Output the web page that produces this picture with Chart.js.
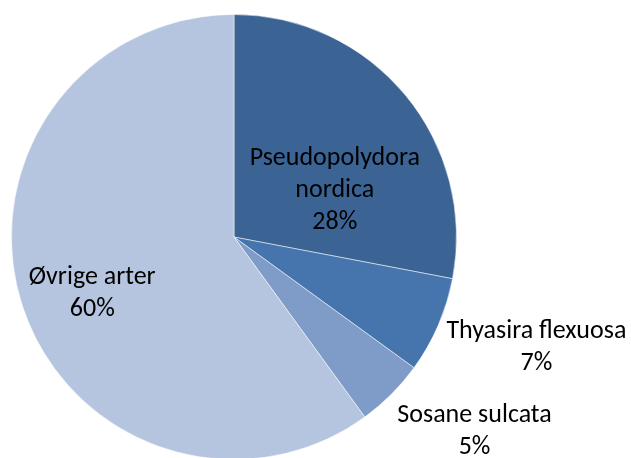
<!DOCTYPE html>
<html>
<head>
<meta charset="utf-8">
<script src="https://cdn.jsdelivr.net/npm/chart.js@4"></script>
<style>
  html, body { margin: 0; padding: 0; background: #fff; overflow: hidden; }
  #wrap { width: 631px; height: 458px; overflow: hidden; }
</style>
</head>
<body>
<div id="wrap"><canvas id="pieChart" width="631" height="460"></canvas></div>
<script>
// arter og andeler (%)
const labels = ['Pseudopolydora nordica', 'Thyasira flexuosa', 'Sosane sulcata', 'Øvrige arter'];
const shares = [28, 7, 5, 60];
const colors = ['#3b6494', '#4675ae', '#7f9bc8', '#b5c4df'];

// tekst på etikettene (linjer), plassering er relativ til radius
const labelLines = [
    ['Pseudopolydora', 'nordica', '28%'],
    ['Thyasira flexuosa', '7%'],
    ['Sosane sulcata', '5%'],
    ['Øvrige arter', '60%']
];
const labelOffsets = [[0.453, -0.211], [1.359, 0.498], [1.081, 0.874], [-0.637, 0.256]];

const labelPlugin = {
    id: 'pieLabels',
    afterDatasetsDraw(chart) {
        const ctx = chart.ctx;
        const arcs = chart.getDatasetMeta(0).data;
        ctx.save();
        ctx.font = '26px Carlito, Calibri, Lato, sans-serif';
        ctx.fillStyle = '#000';
        ctx.textAlign = 'center';
        ctx.textBaseline = 'middle';
        const lh = 32;
        arcs.forEach((arc, i) => {
            const r = arc.outerRadius;
            const cx = arc.x + labelOffsets[i][0] * r;
            const cy = arc.y + labelOffsets[i][1] * r;
            const lines = labelLines[i];
            const y0 = cy - (lines.length - 1) * lh / 2;
            lines.forEach((t, k) => ctx.fillText(t, cx, y0 + k * lh));
        });
        ctx.restore();
    }
};

new Chart(document.getElementById('pieChart'), {
    type: 'pie',
    data: {
        labels: labels,
        datasets: [{
            data: shares,
            backgroundColor: colors,
            borderColor: 'rgba(255,255,255,0.5)',
            borderWidth: 1
        }]
    },
    options: {
        responsive: false,
        animation: false,
        layout: { padding: { left: 11, right: 174, top: 14, bottom: 0 } },
        plugins: {
            legend: { display: false },
            tooltip: { enabled: false }
        }
    },
    plugins: [labelPlugin]
});
</script>
</body>
</html>
